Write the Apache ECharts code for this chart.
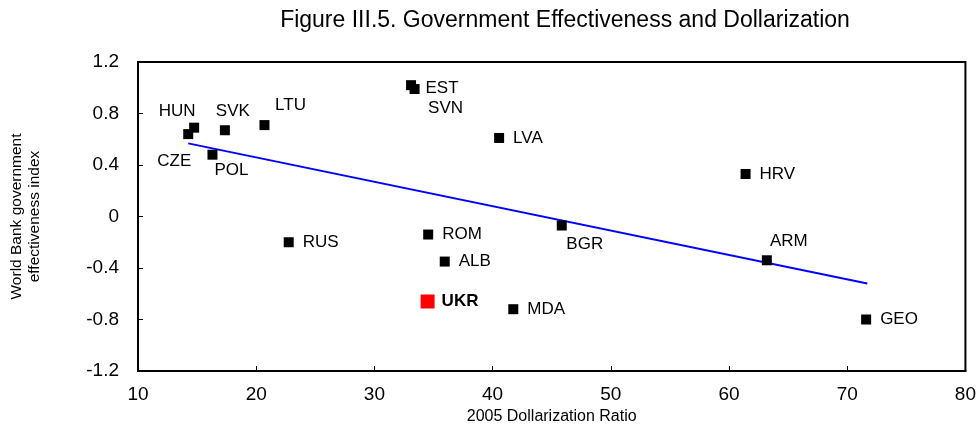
<!DOCTYPE html>
<html>
<head>
<meta charset="utf-8">
<script src="https://cdn.jsdelivr.net/npm/echarts@6/dist/echarts.min.js"></script>
<style>
html,body{margin:0;padding:0;background:#fff;}
#chart{width:979px;height:442px;}
</style>
</head>
<body>
<div id="chart"></div>
<script>
// Data
const countries = ['CZE','HUN','POL','SVK','LTU','RUS','EST','SVN','ROM','ALB','UKR','LVA','MDA','BGR','HRV','ARM','GEO'];
const dollarization = [14.25,14.75,16.3,17.35,20.7,22.75,33.1,33.4,34.55,35.95,34.5,40.55,41.75,45.85,61.4,63.2,71.6];
const effectiveness = [0.64,0.69,0.48,0.67,0.71,-0.2,1.02,0.99,-0.14,-0.35,-0.66,0.61,-0.72,-0.07,0.33,-0.34,-0.8];
const highlight = ['UKR'];
const trendX = [14.25, 71.7];
const trendY = [0.568, -0.52];
const xTicks = [10,20,30,40,50,60,70,80];
const yTicks = [-1.2,-0.8,-0.4,0,0.4,0.8,1.2];

// Label placement (style): offset from marker centre, or default to the right
const labelPlace = {
  HUN:{pos:'inside',off:[-17,-16]},
  SVK:{pos:'inside',off:[8,-19]},
  LTU:{pos:'inside',off:[26,-20]},
  CZE:{pos:'inside',off:[-14,27]},
  POL:{pos:'inside',off:[19,16]},
  EST:{pos:'inside',off:[31,3]},
  SVN:{pos:'inside',off:[31,19]},
  BGR:{pos:'inside',off:[23,19]},
  ARM:{pos:'inside',off:[22,-19]}
};

const FONT = '"Liberation Sans", Arial, sans-serif';

const points = countries.map((c,i)=>{
  const isHi = highlight.includes(c);
  const lp = labelPlace[c];
  const item = {
    name: c,
    value: [dollarization[i], effectiveness[i]],
    symbolSize: isHi ? 14 : 10,
    itemStyle: {color: isHi ? '#ff0000' : '#000000', opacity: 1},
    label: {
      show: true,
      formatter: '{b}',
      fontFamily: FONT,
      fontSize: 17,
      color: '#000',
      opacity: 1,
      fontWeight: isHi ? 'bold' : 'normal'
    }
  };
  if (lp) { item.label.position = lp.pos; item.label.offset = lp.off; }
  else { item.label.position = 'right'; item.label.distance = isHi ? 7 : 9; }
  return item;
});

const chart = echarts.init(document.getElementById('chart'), null, {renderer:'canvas'});
chart.setOption({
  animation: false,
  backgroundColor: '#ffffff',
  title: {
    text: 'Figure III.5. Government Effectiveness and Dollarization',
    left: 560, top: 4, textAlign: 'center',
    textStyle: {fontFamily: FONT, fontSize: 23, fontWeight: 'normal', color: '#000'}
  },
  grid: {left: 138, right: 13, top: 62, bottom: 71, show: true, borderColor: '#000', borderWidth: 2, backgroundColor: 'transparent'},
  xAxis: {
    type: 'value', min: xTicks[0], max: xTicks[xTicks.length-1], interval: 10,
    name: '2005 Dollarization Ratio', nameLocation: 'middle', nameGap: 36,
    nameTextStyle: {fontFamily: FONT, fontSize: 16, color: '#000'},
    axisLine: {show: true, onZero: false, lineStyle: {color: '#000', width: 2}},
    axisTick: {show: true, inside: true, length: 5, lineStyle: {color: '#000', width: 1}},
    axisLabel: {fontFamily: FONT, fontSize: 19, color: '#000', margin: 14},
    splitLine: {show: false}
  },
  yAxis: {
    type: 'value', min: yTicks[0], max: yTicks[yTicks.length-1], interval: 0.4,
    name: 'World Bank government\neffectiveness index', nameLocation: 'middle', nameGap: 94,
    nameTextStyle: {fontFamily: FONT, fontSize: 15.5, color: '#000', lineHeight: 18},
    axisLine: {show: true, onZero: false, lineStyle: {color: '#000', width: 2}},
    axisTick: {show: true, inside: true, length: 5, lineStyle: {color: '#000', width: 1}},
    axisLabel: {fontFamily: FONT, fontSize: 19, color: '#000', margin: 19,
      formatter: v => { const r = Math.round(v*10)/10; return r === 0 ? '0' : String(r); }},
    splitLine: {show: false}
  },
  series: [
    {
      type: 'line',
      data: trendX.map((x,i)=>[x, trendY[i]]),
      symbol: 'none',
      lineStyle: {color: '#0000ff', width: 2},
      z: 1,
      silent: true
    },
    {
      type: 'scatter',
      symbol: 'rect',
      data: points,
      z: 3
    }
  ]
});
</script>
</body>
</html>
